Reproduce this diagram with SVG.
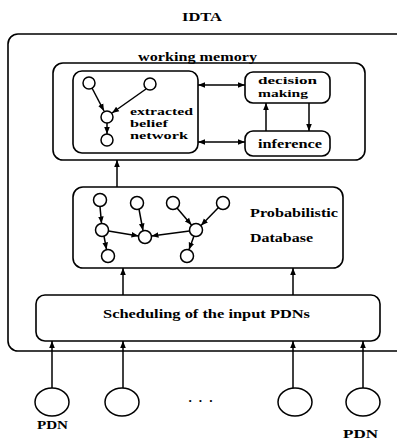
<svg xmlns="http://www.w3.org/2000/svg" width="397" height="445" viewBox="0 0 397 445">
<defs>
<marker id="ah" viewBox="0 0 10 10" refX="10" refY="5" markerWidth="7" markerHeight="7" orient="auto-start-reverse" markerUnits="userSpaceOnUse">
<path d="M0,1 L10,5 L0,9 z" fill="#000"/>
</marker>
<style>
.box{fill:none;stroke:#000;stroke-width:1.6}
.n{fill:#fff;stroke:#000;stroke-width:1.5}
.c{fill:none;stroke:#000;stroke-width:1.5}
.t{font-family:"Liberation Serif","Times New Roman",serif;font-weight:bold;font-size:13px;fill:#000}
.s{font-size:11px}
</style>
</defs>
<rect width="397" height="445" fill="#fff"/>
<text class="t" x="182" y="21" textLength="40" lengthAdjust="spacingAndGlyphs">IDTA</text>
<g id="idta"><rect class="box" x="8" y="34" width="400" height="317" rx="10"/></g>
<g id="wm">
<rect class="box" x="53" y="63" width="312" height="97" rx="10"/>
<text class="t" x="138" y="61" textLength="119" lengthAdjust="spacingAndGlyphs">working memory</text>
</g>
<g id="ebn">
<rect class="box" x="73" y="71" width="125" height="82" rx="9"/>
<text class="t s" x="130" y="115" textLength="63" lengthAdjust="spacingAndGlyphs">extracted</text>
<text class="t s" x="130" y="127" textLength="38" lengthAdjust="spacingAndGlyphs">belief</text>
<text class="t s" x="130" y="139" textLength="58" lengthAdjust="spacingAndGlyphs">network</text>
</g>
<g id="dm">
<rect class="box" x="245" y="72" width="85" height="31" rx="8"/>
<text class="t s" x="258" y="84" textLength="59" lengthAdjust="spacingAndGlyphs">decision</text>
<text class="t s" x="258" y="97" textLength="50" lengthAdjust="spacingAndGlyphs">making</text>
</g>
<g id="inf">
<rect class="box" x="245" y="131" width="85" height="25" rx="8"/>
<text class="t" x="258" y="148" textLength="64" lengthAdjust="spacingAndGlyphs">inference</text>
</g>
<g id="pdb">
<rect class="box" x="73" y="187" width="270" height="81" rx="10"/>
<text class="t" x="250" y="217" textLength="88" lengthAdjust="spacingAndGlyphs">Probabilistic</text>
<text class="t" x="250" y="242" textLength="63" lengthAdjust="spacingAndGlyphs">Database</text>
</g>
<g id="sched">
<rect class="box" x="36" y="295" width="344" height="46" rx="9"/>
<text class="t" x="103" y="318" textLength="207" lengthAdjust="spacingAndGlyphs">Scheduling of the input PDNs</text>
</g>
<g id="inputs">
<ellipse class="n" cx="52" cy="402" rx="17" ry="14"/>
<ellipse class="n" cx="122" cy="402" rx="17" ry="14"/>
<ellipse class="n" cx="295" cy="402" rx="17" ry="14"/>
<ellipse class="n" cx="363" cy="402" rx="17" ry="14"/>
<text class="t" x="188" y="405" textLength="25" lengthAdjust="spacing">· · ·</text>
<text class="t" x="37" y="429" textLength="31" lengthAdjust="spacingAndGlyphs">PDN</text>
<text class="t" x="343" y="438" textLength="35" lengthAdjust="spacingAndGlyphs">PDN</text>
</g>
<g id="bn-nodes">
<circle class="n" cx="89" cy="83" r="6"/>
<circle class="n" cx="150" cy="84" r="6"/>
<circle class="n" cx="107" cy="117" r="6"/>
<circle class="n" cx="107" cy="140" r="6"/>
</g>
<g id="db-nodes">
<circle class="n" cx="100" cy="200" r="6.5"/>
<circle class="n" cx="137" cy="203" r="6.5"/>
<circle class="n" cx="173" cy="203" r="6.5"/>
<circle class="n" cx="223" cy="203" r="6.5"/>
<circle class="n" cx="102" cy="230" r="6.5"/>
<circle class="n" cx="145" cy="237" r="6.5"/>
<circle class="n" cx="196" cy="230" r="6.5"/>
<circle class="n" cx="108" cy="256" r="6.5"/>
<circle class="n" cx="187" cy="256" r="6.5"/>
</g>
<g id="connectors">
<line class="c" x1="198" y1="85" x2="245" y2="85" marker-start="url(#ah)" marker-end="url(#ah)"/>
<line class="c" x1="198" y1="142" x2="245" y2="142" marker-start="url(#ah)" marker-end="url(#ah)"/>
<line class="c" x1="266" y1="131" x2="266" y2="103" marker-end="url(#ah)"/>
<line class="c" x1="309" y1="103" x2="309" y2="131" marker-end="url(#ah)"/>
<line class="c" x1="117" y1="187" x2="117" y2="160" marker-end="url(#ah)"/>
<line class="c" x1="123" y1="295" x2="123" y2="268" marker-end="url(#ah)"/>
<line class="c" x1="293" y1="295" x2="293" y2="268" marker-end="url(#ah)"/>
<line class="c" x1="52" y1="388" x2="52" y2="341" marker-end="url(#ah)"/>
<line class="c" x1="123" y1="388" x2="123" y2="341" marker-end="url(#ah)"/>
<line class="c" x1="293" y1="388" x2="293" y2="341" marker-end="url(#ah)"/>
<line class="c" x1="363" y1="388" x2="363" y2="341" marker-end="url(#ah)"/>
<line class="c" x1="92" y1="88" x2="104" y2="111" marker-end="url(#ah)"/>
<line class="c" x1="146" y1="89" x2="112" y2="113" marker-end="url(#ah)"/>
<line class="c" x1="107" y1="123" x2="107" y2="134" marker-end="url(#ah)"/>
<line class="c" x1="100" y1="206.5" x2="101.5" y2="223.5" marker-end="url(#ah)"/>
<line class="c" x1="139" y1="209" x2="143" y2="230.5" marker-end="url(#ah)"/>
<line class="c" x1="108.5" y1="231" x2="138.5" y2="236" marker-end="url(#ah)"/>
<line class="c" x1="189.5" y1="231" x2="151.5" y2="236" marker-end="url(#ah)"/>
<line class="c" x1="177" y1="208" x2="191.5" y2="225" marker-end="url(#ah)"/>
<line class="c" x1="218.5" y1="207.5" x2="201" y2="225.5" marker-end="url(#ah)"/>
<line class="c" x1="104" y1="236" x2="106.5" y2="249.5" marker-end="url(#ah)"/>
<line class="c" x1="194" y1="236" x2="189" y2="249.5" marker-end="url(#ah)"/>
</g>
</svg>
